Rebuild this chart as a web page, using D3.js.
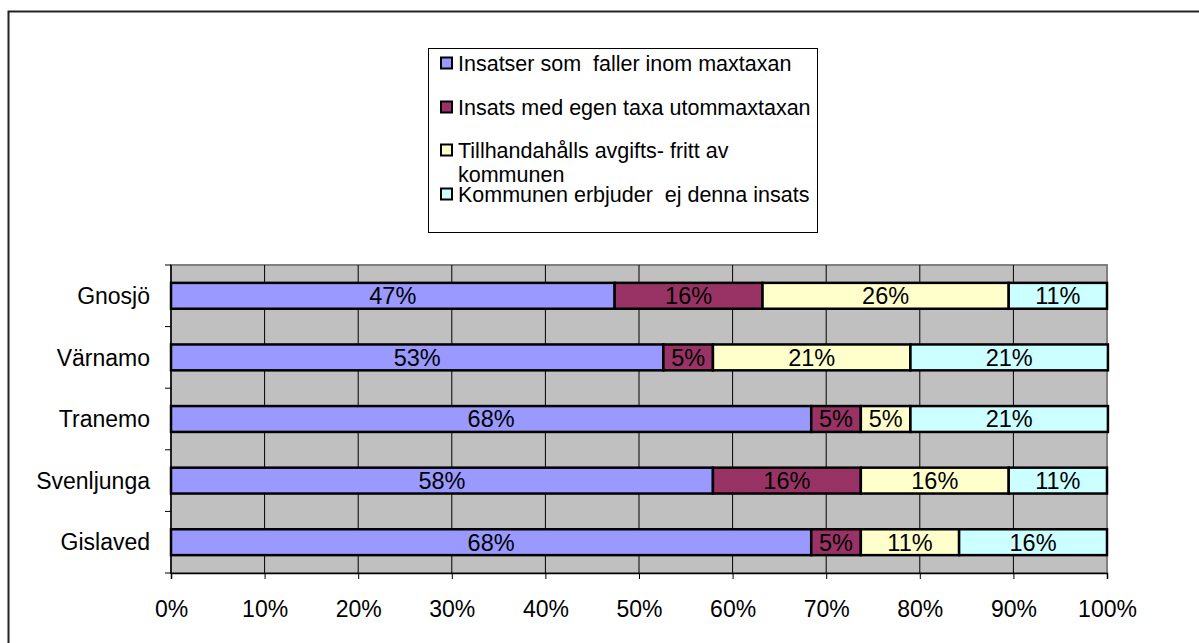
<!DOCTYPE html>
<html lang="sv">
<head>
<meta charset="UTF-8" />
<title>Insatser</title>
<script src="https://d3js.org/d3.v7.min.js"></script>
<style>
  body { margin: 0; background: #fff; }
  text { font-family: "Liberation Sans", Arial, sans-serif; }
</style>
</head>
<body>
<script>
// data (percent of all insatser)
var kommuner = ["Gnosjö", "Värnamo", "Tranemo", "Svenljunga", "Gislaved"];
var seriesNames = [
  "Insatser som  faller inom maxtaxan",
  "Insats med egen taxa utommaxtaxan",
  "Tillhandahålls avgifts- fritt av kommunen",
  "Kommunen erbjuder  ej denna insats"
];
var maxtaxa   = [47.4, 52.6, 68.4, 57.9, 68.4];
var egenTaxa  = [15.8, 5.3, 5.3, 15.8, 5.3];
var avgfritt  = [26.3, 21.1, 5.3, 15.8, 10.5];
var ejInsats  = [10.5, 21.1, 21.1, 10.5, 15.8];
var xTicks = [0, 10, 20, 30, 40, 50, 60, 70, 80, 90, 100];
var colors = ["#9999ff", "#993366", "#ffffcc", "#ccffff"];

var W = 1199, H = 643;
var plot = { left: 171, right: 1107, top: 265, bottom: 573 };

var svg = d3.select("body").append("svg")
  .attr("width", W).attr("height", H);

// outer chart frame
svg.append("rect")
  .attr("x", 8.5).attr("y", 11.5)
  .attr("width", 1300).attr("height", 800)
  .attr("fill", "#fff").attr("stroke", "#222").attr("stroke-width", 2);

var x = d3.scaleLinear().domain([0, 100]).range([plot.left, plot.right]);
var y = d3.scaleBand().domain(kommuner).range([plot.top, plot.bottom])
  .paddingInner(0.58).paddingOuter(0.29);

// plot background
svg.append("rect")
  .attr("x", plot.left).attr("y", plot.top)
  .attr("width", plot.right - plot.left).attr("height", plot.bottom - plot.top)
  .attr("fill", "#c0c0c0").attr("stroke", "#808080").attr("stroke-width", 2);

// gridlines
svg.append("g").selectAll("line")
  .data(xTicks.slice(1, -1))
  .join("line")
  .attr("x1", d => x(d)).attr("x2", d => x(d))
  .attr("y1", plot.top).attr("y2", plot.bottom)
  .attr("stroke", "#000").attr("stroke-width", 1);

// x axis
var xAxis = d3.axisBottom(x).tickValues(xTicks).tickFormat(d => d + "%").tickSize(6).tickPadding(22);
var gx = svg.append("g").attr("transform", "translate(0," + plot.bottom + ")").call(xAxis);
gx.select(".domain").attr("stroke", "#000").attr("stroke-width", 1.5);
gx.selectAll(".tick line").attr("stroke", "#000");
gx.selectAll("text").attr("font-size", 23).attr("fill", "#000")
  .style("font-family", "'Liberation Sans', Arial, sans-serif");

// y axis: ticks on category boundaries
var bounds = d3.range(kommuner.length + 1).map(i => plot.top + i * (plot.bottom - plot.top) / kommuner.length);
svg.append("line")
  .attr("x1", plot.left).attr("x2", plot.left)
  .attr("y1", plot.top).attr("y2", plot.bottom + 1)
  .attr("stroke", "#000").attr("stroke-width", 1.5);
svg.append("g").selectAll("line")
  .data(bounds)
  .join("line")
  .attr("x1", plot.left - 6).attr("x2", plot.left)
  .attr("y1", d => d).attr("y2", d => d)
  .attr("stroke", "#000");
svg.append("g").selectAll("text")
  .data(kommuner)
  .join("text")
  .attr("x", 150)
  .attr("y", d => y(d) + y.bandwidth() / 2)
  .attr("dy", "0.36em")
  .attr("text-anchor", "end")
  .attr("font-size", 23)
  .text(d => d);

// stacked bars
var rows = kommuner.map((k, i) => ({ kommun: k, s0: maxtaxa[i], s1: egenTaxa[i], s2: avgfritt[i], s3: ejInsats[i] }));
var stack = d3.stack().keys(["s0", "s1", "s2", "s3"])(rows);

var layers = svg.append("g").selectAll("g")
  .data(stack)
  .join("g")
  .attr("fill", (d, i) => colors[i]);

layers.selectAll("rect")
  .data(d => d)
  .join("rect")
  .attr("x", d => x(d[0]))
  .attr("y", d => y(d.data.kommun))
  .attr("width", d => x(d[1]) - x(d[0]))
  .attr("height", y.bandwidth())
  .attr("stroke", "#000").attr("stroke-width", 2.5);

layers.selectAll("text")
  .data(d => d)
  .join("text")
  .attr("x", d => (x(d[0]) + x(d[1])) / 2)
  .attr("y", d => y(d.data.kommun) + y.bandwidth() / 2)
  .attr("dy", "0.36em")
  .attr("text-anchor", "middle")
  .attr("font-size", 23.5)
  .attr("fill", "#000")
  .text(d => Math.round(d[1] - d[0]) + "%");

// legend
var lg = svg.append("g");
lg.append("rect")
  .attr("x", 428.5).attr("y", 48.5).attr("width", 389).attr("height", 184)
  .attr("fill", "#fff").attr("stroke", "#000").attr("stroke-width", 1);

var legendLines = [
  ["Insatser som  faller inom maxtaxan"],
  ["Insats med egen taxa utommaxtaxan"],
  ["Tillhandahålls avgifts- fritt av", "kommunen"],
  ["Kommunen erbjuder  ej denna insats"]
];
var legendY = [63, 107, 150, 194];

var items = lg.selectAll("g.item")
  .data(seriesNames)
  .join("g")
  .attr("class", "item")
  .attr("transform", (d, i) => "translate(0," + legendY[i] + ")");

items.append("rect")
  .attr("x", 441).attr("y", -5.5).attr("width", 11).attr("height", 11)
  .attr("fill", (d, i) => colors[i]).attr("stroke", "#000").attr("stroke-width", 2);

items.append("text")
  .attr("x", 458)
  .attr("font-size", 21.5)
  .attr("xml:space", "preserve")
  .style("white-space", "pre")
  .selectAll("tspan")
  .data((d, i) => legendLines[i])
  .join("tspan")
  .attr("x", 458)
  .attr("y", (d, j) => j * 24)
  .attr("dy", "0.36em")
  .text(d => d);
</script>
</body>
</html>
